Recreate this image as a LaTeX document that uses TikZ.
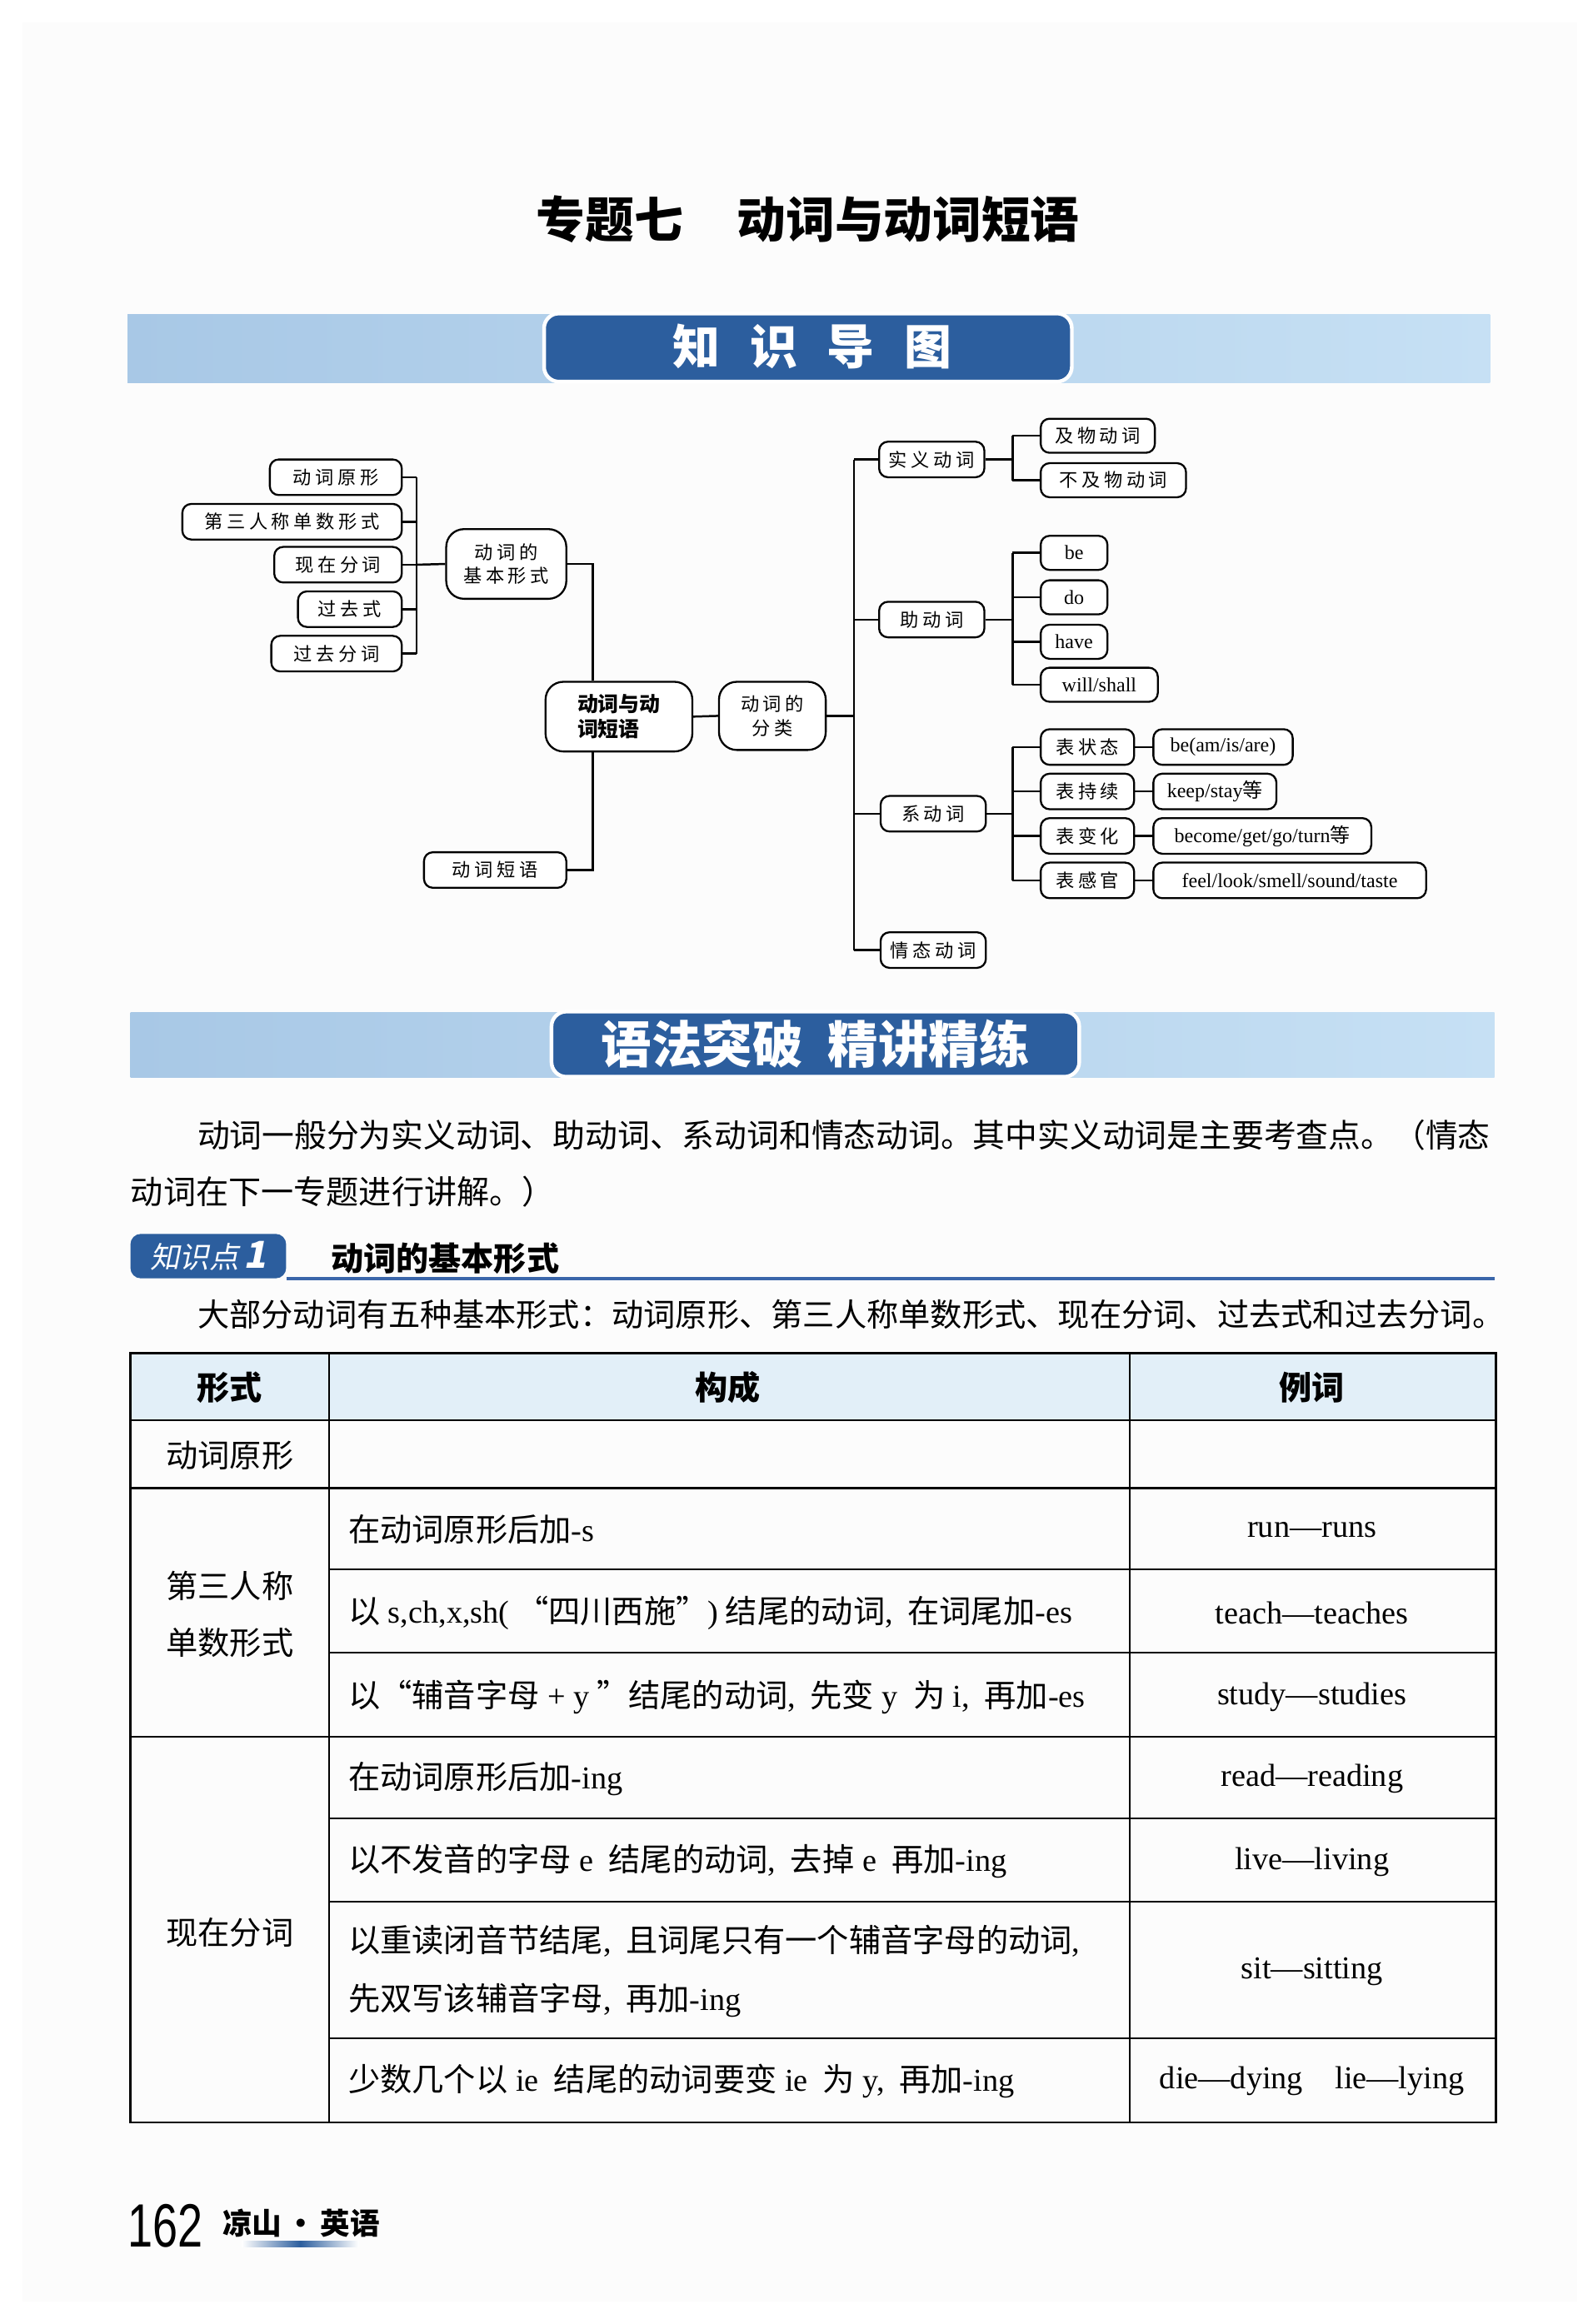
\documentclass[tikz,border=0pt]{standalone}
\usepackage{fontspec}
\newfontfamily\cjk{Noto Sans CJK SC}
\newfontfamily\cjksl[FakeSlant=0.2]{Noto Sans CJK SC}
\newfontfamily\tms{Liberation Serif}
\newfontfamily\hel{Liberation Sans}
\newcommand\fsz[2]{\fontsize{#1}{#2}\selectfont}
\newcommand\gp{\kern2.6pt}
\newcommand\zh[1]{{\cjk\fsz{21.5}{39} #1}}
\newcommand\cm{,\kern5pt}
\definecolor{dblue}{RGB}{44,94,158}
\definecolor{lblue}{RGB}{58,102,170}
\definecolor{stripL}{RGB}{168,200,230}
\definecolor{stripR}{RGB}{198,224,244}
\definecolor{theadbg}{RGB}{226,239,248}
\definecolor{pagebg}{RGB}{252,252,252}
\tikzset{
  mbox/.style={draw, line width=1.3pt, rounded corners=6pt, minimum height=24pt, inner sep=0pt, font=\cjk\fsz{12.5}{16}, align=center, fill=white},
  ebox/.style={mbox, minimum height=23pt, font=\tms\fsz{13.5}{16}},
  conn/.style={line width=1.4pt},
  tline/.style={line width=1.2pt},
  tcell/.style={anchor=west, inner sep=0pt, font=\tms\fsz{21.5}{39}, align=left},
  tcen/.style={inner sep=0pt, font=\tms\fsz{21.5}{39}, align=center},
  tzh/.style={inner sep=0pt, font=\cjk\fsz{21.5}{38}, align=center},
}
\begin{document}
\begin{tikzpicture}[x=1pt,y=-1pt]
\useasboundingbox (0,0) rectangle (1064,1568);
\fill[white] (0,0) rectangle (1064,1568);
\fill[pagebg] (15,15) rectangle (1064,1553);

% title
\node[font=\cjk\bfseries\fsz{33}{33}] (title) at (545,148) {专题七\hspace{1.1em}动词与动词短语};

% banner 1
\shade[left color=stripL, right color=stripR] (86,212) rectangle (1005,258);
\node[draw=white, line width=2.5pt, fill=dblue, rounded corners=10pt, minimum width=356, minimum height=46, inner sep=0pt] (ban1) at (545,234.5) {};
\node[text=white, font=\cjk\bfseries\fsz{32}{32}] (ban1t) at (548,234) {知\hspace{20pt}识\hspace{20pt}导\hspace{20pt}图};

% mind map - left part
\node[mbox, minimum width=89] (n1) at (226.5,322) {动\gp 词\gp 原\gp 形};
\node[mbox, minimum width=148] (n2) at (197,352) {第\gp 三\gp 人\gp 称\gp 单\gp 数\gp 形\gp 式};
\node[mbox, minimum width=86] (n3) at (228,381) {现\gp 在\gp 分\gp 词};
\node[mbox, minimum width=70] (n4) at (236,411) {过\gp 去\gp 式};
\node[mbox, minimum width=88] (n5) at (227,441) {过\gp 去\gp 分\gp 词};
\node[mbox, minimum width=81, minimum height=47, rounded corners=12pt] (jb) at (341.5,380.5) {动\gp 词\gp 的\\基\gp 本\gp 形\gp 式};
\node[mbox, minimum width=99, minimum height=47, rounded corners=12pt, font=\cjk\bfseries\fsz{14}{17}, align=left] (root) at (417.5,483.5) {动词与动\\词短语};
\node[mbox, minimum width=96] (phr) at (334,587) {动\gp 词\gp 短\gp 语};
\node[mbox, minimum width=72, minimum height=46, rounded corners=12pt] (cls) at (521,483) {动\gp 词\gp 的\\分\gp 类};

\coordinate (bL) at (281,0);
\coordinate (vr) at (400,0);
\coordinate (vm) at (576,0);
\coordinate (vr2) at (683,0);

\draw[conn] (n1.east) -- (n1.east -| bL);
\draw[conn] (n2.east) -- (n2.east -| bL);
\draw[conn] (n3.east) -- (n3.east -| bL);
\draw[conn] (n4.east) -- (n4.east -| bL);
\draw[conn] (n5.east) -- (n5.east -| bL);
\draw[conn] (n1.east -| bL) -- (n5.east -| bL);
\draw[conn] (n3.east -| bL) -- (jb.west);
\draw[conn] (jb.east) -| (vr |- root.north);
\draw[conn] (vr |- root.south) |- (phr.east);
\draw[conn] (root.east) -- (cls.west);

% mind map - right part
\node[mbox, minimum width=71] (sy) at (628.5,310) {实\gp 义\gp 动\gp 词};
\node[mbox, minimum width=71] (zd) at (628.5,418) {助\gp 动\gp 词};
\node[mbox, minimum width=71] (xd) at (629.5,549) {系\gp 动\gp 词};
\node[mbox, minimum width=71] (qt) at (629.5,641) {情\gp 态\gp 动\gp 词};

\draw[conn] (cls.east) -- (cls.east -| vm);
\draw[conn] (vm |- sy) -- (vm |- qt);
\draw[conn] (vm |- sy) -- (sy.west);
\draw[conn] (vm |- zd) -- (zd.west);
\draw[conn] (vm |- xd) -- (xd.west);
\draw[conn] (vm |- qt) -- (qt.west);

\node[mbox, minimum width=77, minimum height=23] (jw) at (740.5,294) {及\gp 物\gp 动\gp 词};
\node[mbox, minimum width=98, minimum height=23] (bj) at (751,324) {不\gp 及\gp 物\gp 动\gp 词};
\draw[conn] (sy.east) -- (sy.east -| vr2);
\draw[conn] (vr2 |- jw) -- (vr2 |- bj);
\draw[conn] (vr2 |- jw) -- (jw.west);
\draw[conn] (vr2 |- bj) -- (bj.west);

\node[ebox, minimum width=45] (a1) at (724.5,373) {be};
\node[ebox, minimum width=45] (a2) at (724.5,403) {do};
\node[ebox, minimum width=45] (a3) at (724.5,433) {have};
\node[ebox, minimum width=79] (a4) at (741.5,462) {will/shall};
\draw[conn] (zd.east) -- (zd.east -| vr2);
\draw[conn] (vr2 |- a1) -- (vr2 |- a4);
\draw[conn] (vr2 |- a1) -- (a1.west);
\draw[conn] (vr2 |- a2) -- (a2.west);
\draw[conn] (vr2 |- a3) -- (a3.west);
\draw[conn] (vr2 |- a4) -- (a4.west);

\node[mbox, minimum width=63] (b1) at (733.5,504) {表\gp 状\gp 态};
\node[mbox, minimum width=63] (b2) at (733.5,534) {表\gp 持\gp 续};
\node[mbox, minimum width=63] (b3) at (733.5,564) {表\gp 变\gp 化};
\node[mbox, minimum width=63] (b4) at (733.5,594) {表\gp 感\gp 官};
\node[ebox, minimum width=94, minimum height=24] (e1) at (825,504) {be(am/is/are)};
\node[ebox, minimum width=83, minimum height=24] (e2) at (819.5,534) {keep/stay{\cjk 等}};
\node[ebox, minimum width=147, minimum height=24] (e3) at (851.5,564) {become/get/go/turn{\cjk 等}};
\node[ebox, minimum width=184, minimum height=24] (e4) at (870,594) {feel/look/smell/sound/taste};
\draw[conn] (xd.east) -- (xd.east -| vr2);
\draw[conn] (vr2 |- b1) -- (vr2 |- b4);
\draw[conn] (vr2 |- b1) -- (b1.west);
\draw[conn] (vr2 |- b2) -- (b2.west);
\draw[conn] (vr2 |- b3) -- (b3.west);
\draw[conn] (vr2 |- b4) -- (b4.west);
\draw[conn] (b1.east) -- (e1.west);
\draw[conn] (b2.east) -- (e2.west);
\draw[conn] (b3.east) -- (e3.west);
\draw[conn] (b4.east) -- (e4.west);

% banner 2
\shade[left color=stripL, right color=stripR] (88,683) rectangle (1008,727);
\node[draw=white, line width=2.5pt, fill=dblue, rounded corners=10pt, minimum width=356, minimum height=44, inner sep=0pt] (ban2) at (550,704.5) {};
\node[text=white, font=\cjk\bfseries\fsz{34}{34}] (ban2t) at (550,704) {语法突破\hspace{0.5em}精讲精练};

% paragraph
\node[anchor=west, inner sep=0pt, font=\cjk\fsz{21.8}{22}] (p1) at (133,766) {动词一般分为实义动词、助动词、系动词和情态动词。其中实义动词是主要考查点。（情态};
\node[anchor=west, inner sep=0pt, font=\cjk\fsz{22}{22}] (p2) at (88,804) {动词在下一专题进行讲解。）};

% knowledge point tag
\node[fill=dblue, rounded corners=7pt, minimum width=105, minimum height=30, inner sep=0pt, text=white, font=\cjksl\fsz{20}{20}] (tag) at (140.5,847.5) {知识点\kern3pt{\bfseries\fsz{25}{25}1}};
\coordinate (ulend) at (1008,0);
\draw[line width=2pt, lblue] (tag.south east) -- (tag.south east -| ulend);
\node[anchor=west, inner sep=0pt, font=\cjk\bfseries\fsz{22}{22}] (h1) at (223,849) {动词的基本形式};
\node[anchor=west, inner sep=0pt, font=\cjk\fsz{21.5}{22}] (p3) at (133,887) {大部分动词有五种基本形式：动词原形、第三人称单数形式、现在分词、过去式和过去分词。};

% table
\fill[theadbg] (88,913) rectangle (1009,958);
\draw[tline] (88,958) -- (1009,958);
\draw[tline] (88,1004) -- (1009,1004);
\draw[tline] (222,1059) -- (1009,1059);
\draw[tline] (222,1115) -- (1009,1115);
\draw[tline] (88,1172) -- (1009,1172);
\draw[tline] (222,1227) -- (1009,1227);
\draw[tline] (222,1283) -- (1009,1283);
\draw[tline] (222,1375) -- (1009,1375);
\draw[tline] (222,913) -- (222,1432);
\draw[tline] (762,913) -- (762,1432);
\draw[line width=1.6pt] (88,913) rectangle (1009,1432);

\node[tzh, font=\cjk\bfseries\fsz{22}{22}] (hA) at (155,936) {形式};
\node[tzh, font=\cjk\bfseries\fsz{22}{22}] (hB) at (491,936) {构成};
\node[tzh, font=\cjk\bfseries\fsz{22}{22}] (hC) at (885,936) {例词};

\node[tzh] (cA1) at (155,982) {动词原形};
\node[tzh] (cA2) at (155,1089) {第三人称\\单数形式};
\node[tzh] (cA3) at (155,1304) {现在分词};

\node[tcell] (cB1) at (230,1032) {\zh{在动词原形后加}-s};
\node[tcell] (cB2) at (230,1088) {\zh{以} s,ch,x,sh(\zh{“四川西施”})\zh{结尾的动词}\cm\zh{在词尾加}-es};
\node[tcell] (cB3) at (230,1145) {\zh{以“辅音字母} + y\zh{”结尾的动词}\cm\zh{先变} y \zh{为} i\cm\zh{再加}-es};
\node[tcell] (cB4) at (230,1200) {\zh{在动词原形后加}-ing};
\node[tcell] (cB5) at (230,1256) {\zh{以不发音的字母} e \zh{结尾的动词}\cm\zh{去掉} e \zh{再加}-ing};
\node[tcell] (cB6) at (230,1330) {\zh{以重读闭音节结尾}\cm\zh{且词尾只有一个辅音字母的动词},\\\zh{先双写该辅音字母}\cm\zh{再加}-ing};
\node[tcell] (cB7) at (230,1404) {\zh{少数几个以} ie \zh{结尾的动词要变} ie \zh{为} y\cm\zh{再加}-ing};

\node[tcen] (cC1) at (885,1032) {run—runs};
\node[tcen] (cC2) at (885,1088) {teach—teaches};
\node[tcen] (cC3) at (885,1145) {study—studies};
\node[tcen] (cC4) at (885,1200) {read—reading};
\node[tcen] (cC5) at (885,1256) {live—living};
\node[tcen] (cC6) at (885,1330) {sit—sitting};
\node[tcen] (cC7) at (885,1404) {die—dying\hspace{1em}lie—lying};

% footer
\node[anchor=west, inner sep=0pt, font=\hel\fsz{33}{33}] (pg) at (86,1502) {\scalebox{0.92}[1.25]{162}};
\node[anchor=west, inner sep=0pt, font=\cjk\bfseries\fsz{20}{20}] (ft) at (150,1500) {凉山\kern3pt·\kern3pt英语};
\shade[left color=white, right color=white, middle color=dblue] (163,1512) rectangle (242,1516);
\end{tikzpicture}
\end{document}
